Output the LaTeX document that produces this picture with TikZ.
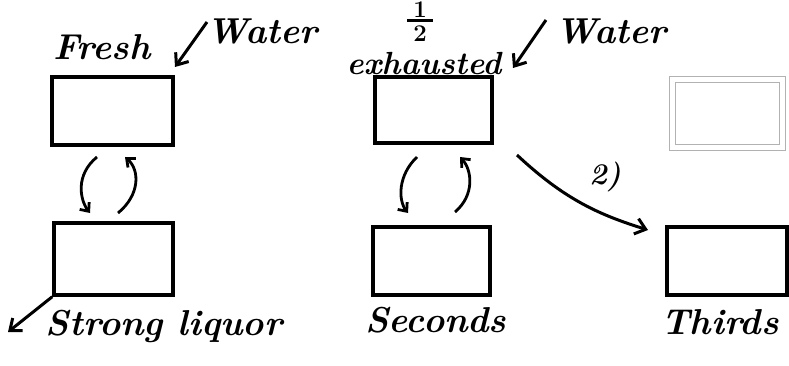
\documentclass[tikz,border=0pt]{standalone}
\usetikzlibrary{arrows.meta}
\newcommand\halffont{\fontsize{24}{12}\selectfont\bfseries\lineskiplimit=-100pt\relax}
\begin{document}
\begin{tikzpicture}[x=1pt,y=-1pt,
  tank/.style={draw, line width=3.4pt, minimum width=#1, inner sep=0pt},
  ghost/.style={draw=gray!60, double=white, double distance=5pt, line width=1pt, inner sep=0pt},
  hand/.style={font=\fontsize{36}{40}\selectfont\bfseries\itshape, inner sep=0pt},
  flow/.style={line width=3pt, -{Straight Barb[length=10pt,width=16pt,line width=3pt]}},
  flow2/.style={line width=2.8pt, -{Straight Barb[length=7pt,width=12pt,line width=2.8pt]}}]
\useasboundingbox (0,0) rectangle (789,366);
% tanks
\node[tank=121pt, minimum height=68pt] (b1) at (112.5,111) {};
\node[tank=119pt, minimum height=72pt] (b4) at (113.5,259) {};
\node[tank=117pt, minimum height=66pt] (b2) at (433.5,110) {};
\node[tank=117pt, minimum height=68pt] (b5) at (431.5,261) {};
\node[tank=120pt, minimum height=68pt] (b6) at (727,261) {};
\node[ghost, minimum width=110pt, minimum height=68pt] (b3) at (727.5,113.5) {};
% labels
\node[hand] (fresh) at (102,47) {Fresh};
\node[hand] (w1) at (262,31) {Water};
\node[inner sep=0pt, align=center, font=\halffont] (half) at (420,22)
  {1\\\rule[7.5pt]{26pt}{3pt}\\2};
\node[hand, font=\fontsize{32}{36}\selectfont\bfseries\itshape] (exh) at (424,64) {exhausted};
\node[hand] (w2) at (611,31) {Water};
\node[hand] (strong) at (164,326) {Strong liquor};
\node[hand] (sec) at (436,320) {Seconds};
\node[hand] (thi) at (720,322) {Thirds};
\node[hand, font=\fontsize{30}{34}\selectfont\bfseries\itshape] (two) at (605,177) {2)};
% helper coordinates
\coordinate (w1s) at (207,22);
\coordinate (w1t) at (175,67);
\coordinate (w2s) at (546,20);
\coordinate (w2t) at (513,68);
\coordinate (out) at (8,332);
\coordinate (a1s) at (97,157);
\coordinate (a1e) at (90,213);
\coordinate (a2s) at (118,213);
\coordinate (a2e) at (125,157);
\coordinate (a3s) at (417,157);
\coordinate (a3e) at (408,213);
\coordinate (a4s) at (455,212);
\coordinate (a4e) at (460,157);
\coordinate (cs) at (517,155);
\coordinate (ce) at (648,230);
% arrows
\draw[flow] (w1s) -- (w1t);
\draw[flow] (w2s) -- (w2t);
\draw[flow] (b4.south west) -- (out);
\draw[flow2] (a1s) .. controls (75,175) and (80,200) .. (a1e);
\draw[flow2] (a2s) .. controls (140,195) and (140,170) .. (a2e);
\draw[flow2] (a3s) .. controls (398,175) and (398,200) .. (a3e);
\draw[flow2] (a4s) .. controls (475,195) and (472,170) .. (a4e);
\draw[flow] (cs) .. controls (565,200) and (600,215) .. (ce);
\end{tikzpicture}
\end{document}
